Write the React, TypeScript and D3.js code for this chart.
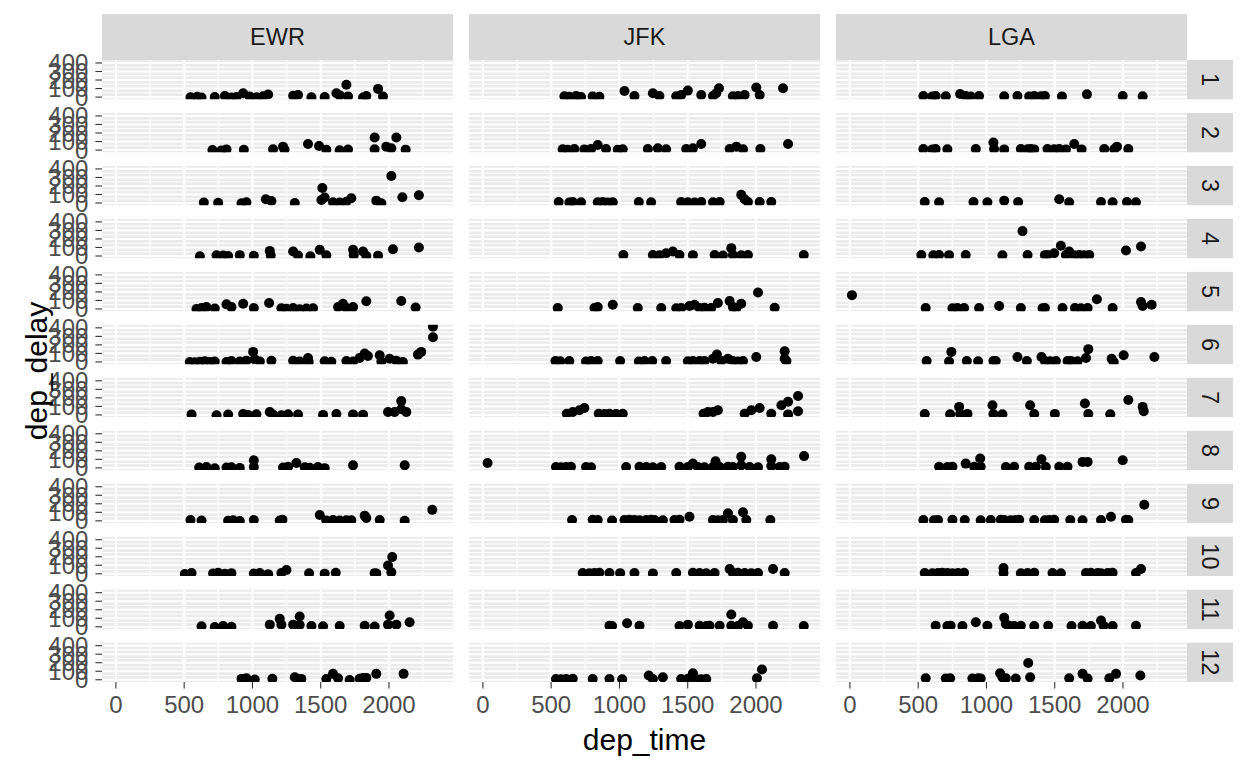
import * as d3 from 'd3';

// facet_grid(month ~ origin): dep_time vs dep_delay
const ORIGINS = ['EWR', 'JFK', 'LGA'];
const MONTHS = ['1', '2', '3', '4', '5', '6', '7', '8', '9', '10', '11', '12'];
const X_TICKS = [0, 500, 1000, 1500, 2000];
const Y_TICKS = [0, 100, 200, 300, 400];

type Pt = [number, number]; // [dep_time, dep_delay]

const EWR: Pt[][] = [
  [[546, -3], [595, 5], [627, -5], [724, 0], [798, 12], [846, -4], [883, 2], [932, 45], [980, 8], [1029, -2], [1078, 10], [1115, 30], [1298, 15], [1334, 25], [1432, -3], [1529, 0], [1615, 45], [1639, 20], [1688, 144], [1700, 8], [1810, -5], [1834, 12], [1920, 96], [1956, 6]],
  [[707, 0], [773, -4], [810, 8], [937, 3], [1151, 10], [1224, 40], [1235, 5], [1407, 72], [1488, 48], [1541, 5], [1639, -2], [1700, 6], [1895, 148], [1895, 10], [1980, 40], [2017, 20], [2054, 148], [2122, 5]],
  [[644, 5], [749, 2], [920, -3], [956, 8], [1098, 44], [1139, 24], [1310, 0], [1505, 36], [1512, 176], [1529, 64], [1590, 10], [1639, 5], [1688, 15], [1724, 56], [1907, 28], [1944, -2], [2017, 316], [2098, 68], [2219, 92]],
  [[615, -2], [737, 8], [785, 5], [822, 0], [907, 10], [1010, 3], [1127, 60], [1134, 5], [1298, 52], [1334, 6], [1424, -4], [1493, 72], [1541, 8], [1737, 72], [1742, 10], [1810, 52], [1834, 0], [1920, 4], [2029, 80], [2219, 100]],
  [[590, 0], [627, 10], [663, 22], [724, 5], [810, 54], [846, 22], [932, 62], [1010, 10], [1122, 70], [1212, 8], [1249, 2], [1298, 12], [1346, -3], [1395, 5], [1444, 8], [1627, 22], [1663, 62], [1688, 10], [1737, 22], [1834, 90], [2090, 94], [2195, 18]],
  [[541, 0], [578, -5], [615, 3], [651, 8], [688, 0], [724, 5], [810, -2], [846, 10], [907, 4], [956, 15], [1005, 118], [1017, 30], [1054, 6], [1139, 14], [1298, 14], [1346, 6], [1407, 46], [1412, 0], [1529, 8], [1578, 3], [1688, 10], [1737, 5], [1785, 46], [1822, 98], [1846, 70], [1932, 78], [1944, 6], [2005, 38], [2054, 14], [2102, 0], [2212, 86], [2236, 118], [2322, 414], [2322, 290]],
  [[554, 6], [737, -3], [822, 5], [932, 10], [968, 0], [1029, 8], [1127, 34], [1150, 5], [1212, -4], [1261, 8], [1334, 4], [1517, 0], [1615, 10], [1737, 6], [1810, 3], [1993, 34], [2041, 34], [2090, 162], [2090, 66], [2127, 34]],
  [[610, 3], [663, 10], [724, -5], [810, 5], [846, 8], [907, 0], [1010, 90], [1010, 10], [1224, 4], [1261, 12], [1322, 58], [1383, 6], [1420, 2], [1480, 10], [1529, -3], [1737, 30], [2115, 30]],
  [[546, 9], [627, 5], [822, 0], [859, 8], [907, -2], [1010, 10], [1200, 4], [1220, 12], [1493, 69], [1541, 5], [1590, 10], [1639, 3], [1688, 8], [1724, 6], [1822, 61], [1834, 33], [1932, 9], [2115, 2], [2317, 129]],
  [[505, -2], [554, 10], [712, 5], [749, 12], [798, 0], [846, 8], [1010, 3], [1054, 10], [1115, -4], [1212, 9], [1249, 45], [1415, 6], [1529, 2], [1610, 12], [1895, 8], [1907, 5], [1993, 97], [2024, 197], [2017, 17]],
  [[627, 5], [724, -2], [785, 8], [846, 0], [1127, 25], [1200, 93], [1212, 25], [1298, 25], [1346, 121], [1346, 20], [1432, 10], [1517, 5], [1639, 8], [1822, 12], [1895, 3], [1993, 25], [2005, 133], [2054, 25], [2151, 53]],
  [[920, 10], [935, 5], [956, 17], [1017, 2], [1146, 12], [1310, 30], [1330, 8], [1358, 10], [1541, 8], [1590, 69], [1627, 17], [1712, -3], [1785, 12], [1810, 20], [1834, 22], [1907, 69], [2107, 69]],
];

const JFK: Pt[][] = [
  [[597, 10], [633, 5], [682, 12], [719, 0], [804, 8], [853, 3], [1037, 72], [1110, 12], [1245, 44], [1293, 12], [1416, 10], [1452, 24], [1501, 76], [1599, 24], [1685, 12], [1709, 44], [1729, 104], [1831, 10], [1868, 12], [1917, 24], [2002, 112], [2027, 24], [2198, 104]],
  [[584, 10], [621, 5], [670, 12], [743, 8], [792, 12], [841, 60], [902, 12], [988, 5], [1024, 10], [1208, 12], [1281, 20], [1342, 10], [1489, 12], [1538, 20], [1599, 72], [1807, 12], [1856, 40], [1905, 10], [2032, 12], [2235, 72]],
  [[555, 12], [633, 5], [658, 12], [719, 8], [841, 10], [878, 12], [914, 5], [951, 10], [1142, 12], [1232, 8], [1452, 12], [1501, 10], [1550, 5], [1599, 12], [1685, 10], [1734, 12], [1892, 96], [1917, 44], [1941, 12], [2027, 12], [2112, 12]],
  [[1029, 12], [1245, 12], [1293, 8], [1342, 32], [1391, 52], [1440, 12], [1538, 10], [1697, 12], [1758, 5], [1819, 92], [1831, 12], [1892, 8], [1941, 12], [2350, 12]],
  [[548, 10], [817, 12], [841, 22], [951, 50], [1134, 12], [1306, 12], [1416, 8], [1452, 10], [1513, 34], [1550, 50], [1587, 12], [1623, 14], [1672, 12], [1721, 70], [1807, 94], [1831, 22], [1856, 12], [1892, 62], [2015, 194], [2137, 14]],
  [[531, 10], [567, 8], [633, 10], [755, 5], [792, 10], [841, 12], [1005, 10], [1142, 6], [1183, 10], [1240, 12], [1342, 10], [1501, 8], [1538, 10], [1587, 12], [1623, 10], [1685, 38], [1714, 86], [1746, 10], [1795, 38], [1831, 10], [1868, 6], [1905, 10], [2002, 58], [2210, 126], [2210, 38], [2223, 10]],
  [[614, 14], [658, 34], [707, 54], [743, 82], [848, 14], [890, 10], [927, 14], [976, 12], [1024, 14], [1616, 14], [1648, 34], [1685, 34], [1721, 54], [1917, 14], [1966, 54], [2027, 82], [2112, 14], [2186, 114], [2235, 154], [2235, 6], [2308, 222], [2308, 42]],
  [[34, 58], [535, 10], [572, 8], [609, 10], [645, 12], [755, 10], [792, 8], [1049, 10], [1147, 12], [1196, 10], [1245, 8], [1306, 10], [1440, 12], [1501, 10], [1538, 50], [1575, 10], [1623, 8], [1685, 10], [1704, 78], [1734, 10], [1795, 12], [1831, 10], [1892, 130], [1892, 30], [1954, 10], [2015, 8], [2112, 102], [2112, 22], [2174, 10], [2210, 12], [2352, 138]],
  [[653, 9], [804, 12], [841, 9], [946, 5], [1037, 9], [1073, 12], [1110, 9], [1147, 6], [1196, 9], [1232, 12], [1257, 9], [1318, 8], [1403, 9], [1440, 12], [1513, 49], [1685, 9], [1721, 6], [1758, 9], [1795, 89], [1831, 9], [1905, 101], [1929, 9], [2105, 9]],
  [[731, 9], [780, 6], [817, 9], [853, 12], [927, 9], [1005, 8], [1110, 9], [1245, 5], [1416, 9], [1538, 12], [1587, 9], [1636, 6], [1697, 9], [1807, 57], [1831, 9], [1868, 12], [1917, 9], [1966, 8], [2015, 9], [2125, 57], [2210, 9]],
  [[927, 13], [946, 10], [1056, 41], [1147, 13], [1440, 10], [1501, 25], [1587, 13], [1636, 10], [1660, 13], [1734, 13], [1819, 145], [1819, 13], [1868, 10], [1905, 53], [1941, 13], [2125, 13], [2350, 10]],
  [[535, 9], [572, 6], [609, 9], [658, 12], [804, 9], [927, 9], [1020, 6], [1215, 49], [1245, 9], [1318, 29], [1452, 9], [1501, 12], [1538, 77], [1562, 9], [1599, 6], [1636, 9], [2007, 17], [2044, 121]],
];

const LGA: Pt[][] = [
  [[538, 12], [604, 8], [628, 12], [702, 10], [807, 36], [848, 12], [885, 8], [946, 12], [1130, 10], [1227, 12], [1313, 8], [1350, 12], [1399, 10], [1428, 12], [1553, 8], [1736, 32], [1998, 12], [2144, 10]],
  [[538, 12], [604, 8], [628, 12], [714, 10], [922, 12], [1051, 88], [1056, 12], [1130, 8], [1252, 12], [1301, 10], [1325, 12], [1350, 8], [1447, 12], [1496, 10], [1533, 12], [1582, 8], [1643, 72], [1697, 8], [1863, 12], [1936, 10], [1956, 40], [2039, 12]],
  [[548, 12], [653, 8], [905, 12], [1007, 10], [1130, 28], [1232, 12], [1533, 44], [1606, 10], [1839, 12], [1924, 8], [2029, 12], [2095, 10]],
  [[523, 12], [611, 8], [653, 12], [726, 10], [848, 12], [1117, 8], [1264, 292], [1301, 12], [1428, 10], [1447, 12], [1496, 32], [1545, 120], [1582, 12], [1606, 52], [1643, 10], [1680, 12], [1716, 8], [1753, 12], [2022, 64], [2132, 112]],
  [[15, 162], [555, 10], [751, 8], [787, 10], [836, 12], [946, 10], [1093, 34], [1252, 10], [1411, 8], [1428, 10], [1557, 12], [1648, 10], [1692, 8], [1741, 10], [1809, 114], [1924, 10], [2132, 82], [2144, 34], [2210, 50]],
  [[562, 10], [726, 6], [743, 118], [856, 10], [939, 8], [1051, 10], [1068, 12], [1227, 58], [1296, 10], [1403, 58], [1428, 10], [1467, 8], [1509, 10], [1594, 12], [1619, 10], [1667, 8], [1729, 46], [1746, 150], [1917, 38], [1932, 0], [2005, 78], [2230, 58]],
  [[548, 10], [734, 8], [800, 94], [807, 10], [861, 12], [1044, 114], [1051, 10], [1117, 8], [1320, 114], [1350, 10], [1501, 12], [1721, 134], [1746, 10], [1907, 8], [2039, 174], [2144, 94], [2152, 42]],
  [[653, 14], [714, 10], [751, 14], [848, 50], [910, 12], [954, 110], [958, 14], [1142, 10], [1203, 14], [1313, 12], [1362, 14], [1403, 102], [1435, 10], [1533, 14], [1594, 12], [1704, 70], [1741, 70], [1998, 90]],
  [[538, 9], [616, 6], [645, 9], [751, 12], [841, 9], [958, 6], [1032, 9], [1105, 12], [1130, 9], [1178, 6], [1215, 9], [1240, 12], [1350, 9], [1428, 6], [1460, 9], [1496, 12], [1614, 9], [1704, 6], [1839, 9], [1912, 49], [2022, 12], [2039, 9], [2156, 189]],
  [[548, 9], [604, 6], [645, 9], [677, 12], [714, 9], [751, 6], [792, 9], [836, 12], [1125, 69], [1125, 9], [1252, 6], [1301, 9], [1350, 12], [1484, 9], [1545, 6], [1729, 9], [1765, 12], [1814, 9], [1839, 6], [1888, 9], [1924, 12], [2095, 9], [2132, 57]],
  [[628, 13], [714, 10], [738, 13], [824, 10], [922, 53], [1007, 13], [1130, 105], [1142, 33], [1166, 13], [1203, 10], [1252, 13], [1350, 10], [1452, 13], [1623, 10], [1704, 13], [1765, 10], [1839, 73], [1858, 13], [1924, 10], [2095, 13]],
  [[555, 17], [702, 14], [734, 17], [897, 14], [939, 17], [958, 14], [1100, 77], [1117, 29], [1142, 17], [1215, 14], [1306, 197], [1320, 29], [1606, 17], [1704, 69], [1741, 14], [1900, 17], [1949, 69], [2127, 49]],
];

const SERIES = [EWR, JFK, LGA];

const FONT = '"Liberation Sans", Arial, sans-serif';

export default function App() {
  const width = 1248;
  const height = 768;

  // panel geometry
  const panelLeft = 102;
  const panelW = 351;
  const colStep = 367;
  const panelTop = 60;
  const panelH = 39.3;
  const rowStep = 52.97;
  const stripH = 46;
  const stripW = 46;
  const tickLen = 6.6;

  const all = SERIES.flat(2);
  const [x0, x1] = d3.extent(all, (d) => d[0]) as [number, number];
  const [y0, y1] = d3.extent(all, (d) => d[1]) as [number, number];
  const xPad = (x1 - x0) * 0.05;
  const yPad = (y1 - y0) * 0.05;

  const x = d3.scaleLinear().domain([x0 - xPad, x1 + xPad]).range([0, panelW]);
  const y = d3.scaleLinear().domain([y0 - yPad, y1 + yPad]).range([panelH, 0]);

  const xMinor = X_TICKS.map((t) => t + 250).filter((t) => t <= x.domain()[1]);
  const yMinor = Y_TICKS.map((t) => t + 50).filter((t) => t <= y.domain()[1]);

  const lastRowBottom = panelTop + (MONTHS.length - 1) * rowStep + panelH;
  const rightEdge = panelLeft + (ORIGINS.length - 1) * colStep + panelW;

  return (
    <svg
      width={width}
      height={height}
      style={{ position: 'absolute', left: 0, top: 0, background: '#fff' }}
      fontFamily={FONT}
    >
      <defs>
        <clipPath id="panel-clip">
          <rect x={0} y={0} width={panelW} height={panelH} />
        </clipPath>
      </defs>
      <rect width={width} height={height} fill="#fff" />

      {/* top strips */}
      {ORIGINS.map((o, c) => (
        <g key={o} transform={`translate(${panelLeft + c * colStep},${panelTop - stripH})`}>
          <rect width={panelW} height={stripH} fill="#D9D9D9" />
          <text
            x={panelW / 2}
            y={stripH / 2}
            textAnchor="middle"
            dominantBaseline="central"
            fontSize={23.5}
            fill="#1A1A1A"
          >
            {o}
          </text>
        </g>
      ))}

      {/* right strips */}
      {MONTHS.map((m, r) => (
        <g key={m} transform={`translate(${rightEdge},${panelTop + r * rowStep})`}>
          <rect width={stripW} height={panelH} fill="#D9D9D9" />
          <text
            transform={`translate(${stripW / 2},${panelH / 2}) rotate(90)`}
            textAnchor="middle"
            dominantBaseline="central"
            fontSize={23.5}
            fill="#1A1A1A"
          >
            {m}
          </text>
        </g>
      ))}

      {/* panels */}
      {SERIES.map((series, c) =>
        series.map((pts, r) => (
          <g key={`${c}-${r}`} transform={`translate(${panelLeft + c * colStep},${panelTop + r * rowStep})`}>
            <rect width={panelW} height={panelH} fill="#EBEBEB" />
            {yMinor.map((t) => (
              <line key={`ym${t}`} x1={0} x2={panelW} y1={y(t)} y2={y(t)} stroke="#fff" strokeWidth={1.1} />
            ))}
            {xMinor.map((t) => (
              <line key={`xm${t}`} x1={x(t)} x2={x(t)} y1={0} y2={panelH} stroke="#fff" strokeWidth={1.1} />
            ))}
            {Y_TICKS.map((t) => (
              <line key={`y${t}`} x1={0} x2={panelW} y1={y(t)} y2={y(t)} stroke="#fff" strokeWidth={2.1} />
            ))}
            {X_TICKS.map((t) => (
              <line key={`x${t}`} x1={x(t)} x2={x(t)} y1={0} y2={panelH} stroke="#fff" strokeWidth={2.1} />
            ))}
            <g clipPath="url(#panel-clip)">
              {pts.map((d, i) => (
                <circle key={i} cx={x(d[0])} cy={y(d[1])} r={5} fill="#000" />
              ))}
            </g>
          </g>
        ))
      )}

      {/* y axes (left column only) */}
      {MONTHS.map((m, r) => (
        <g key={`ya${m}`} transform={`translate(${panelLeft},${panelTop + r * rowStep})`}>
          {Y_TICKS.map((t) => (
            <g key={t}>
              <line x1={-tickLen} x2={0} y1={y(t)} y2={y(t)} stroke="#333" strokeWidth={1.1} />
              <text
                x={-tickLen - 7}
                y={y(t)}
                textAnchor="end"
                dominantBaseline="central"
                fontSize={24}
                fill="#4D4D4D"
              >
                {t}
              </text>
            </g>
          ))}
        </g>
      ))}

      {/* x axes (bottom row only) */}
      {ORIGINS.map((o, c) => (
        <g key={`xa${o}`} transform={`translate(${panelLeft + c * colStep},${lastRowBottom})`}>
          {X_TICKS.map((t) => (
            <g key={t}>
              <line x1={x(t)} x2={x(t)} y1={0} y2={tickLen} stroke="#333" strokeWidth={1.1} />
              <text x={x(t)} y={tickLen + 24} textAnchor="middle" fontSize={24} fill="#4D4D4D">
                {t}
              </text>
            </g>
          ))}
        </g>
      ))}

      {/* axis titles */}
      <text
        x={(panelLeft + rightEdge) / 2}
        y={lastRowBottom + 68}
        textAnchor="middle"
        fontSize={30}
        fill="#000"
      >
        dep_time
      </text>
      <text
        transform={`translate(${36},${(panelTop + lastRowBottom) / 2}) rotate(-90)`}
        textAnchor="middle"
        dominantBaseline="central"
        fontSize={30}
        fill="#000"
      >
        dep_delay
      </text>
    </svg>
  );
}
